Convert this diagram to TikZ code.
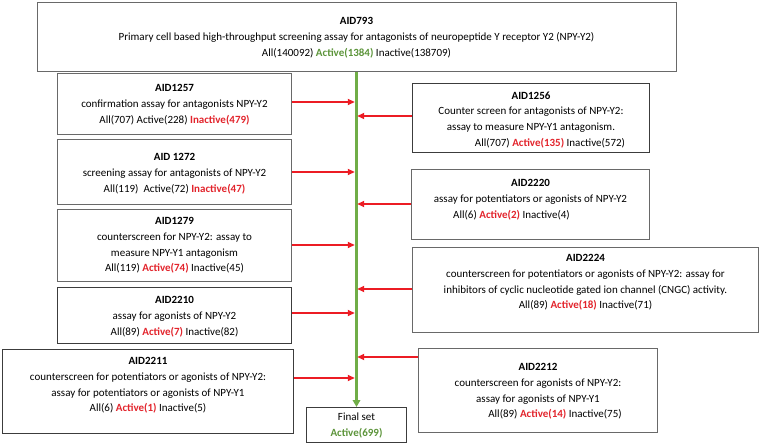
\documentclass[tikz,border=0pt]{standalone}
\usepackage{fontspec}
\setmainfont{Carlito}
\usetikzlibrary{arrows.meta}
\definecolor{redtxt}{RGB}{226,36,44}
\definecolor{grntxt}{RGB}{92,148,58}
\definecolor{grnline}{RGB}{112,173,71}
\definecolor{redarr}{RGB}{236,28,36}
\definecolor{boxline}{RGB}{105,105,105}
\definecolor{boxdark}{RGB}{60,60,60}
\newcommand{\rb}[1]{\textcolor{redtxt}{\textbf{#1}}}
\newcommand{\gb}[1]{\textcolor{grntxt}{\textbf{#1}}}
\begin{document}
\begin{tikzpicture}[x=1pt,y=-1pt,
  box/.style={draw=boxline, line width=1pt, inner sep=0pt, anchor=north west},
  txt/.style={anchor=north, inner sep=0pt, align=center, font=\fontsize{11}{15.6}\selectfont},
  feed/.style={draw=redarr, line width=2pt, -{Triangle[length=7pt,width=6pt]}, shorten >=1.2pt},
  mainline/.style={draw=grnline, line width=2.6pt, -{Triangle[length=7pt,width=7.5pt]}}]
\useasboundingbox (0,0) rectangle (760,443);
% boxes
\node[box, minimum width=639pt, minimum height=69pt] (top) at (36.5,2) {};
\node[box, minimum width=234pt, minimum height=61pt] (a1257) at (57,73) {};
\node[box, draw=boxdark, minimum width=237pt, minimum height=69pt] (a1256) at (412,83) {};
\node[box, minimum width=234pt, minimum height=65pt] (a1272) at (57,139) {};
\node[box, minimum width=238pt, minimum height=70pt] (a2220) at (411,169) {};
\node[box, minimum width=234pt, minimum height=72pt] (a1279) at (57,209) {};
\node[box, minimum width=346pt, minimum height=85pt] (a2224) at (412,247) {};
\node[box, draw=boxdark, minimum width=234pt, minimum height=56pt] (a2210) at (57,287) {};
\node[box, draw=boxdark, minimum width=291pt, minimum height=84pt] (a2211) at (2,349) {};
\node[box, minimum width=239pt, minimum height=84pt] (a2212) at (418,348) {};
\node[box, draw=boxdark, minimum width=100pt, minimum height=35pt] (final) at (306,407) {};
% texts
\node[txt] (t793) at ([yshift=-15.5pt]top.north) {\textbf{AID793}\\Primary cell based high-throughput screening assay for antagonists of neuropeptide Y receptor Y2 (NPY-Y2)\\All(140092) \gb{Active(1384)} Inactive(138709)};
\node[txt] (t1257) at ([yshift=-11.5pt]a1257.north) {\textbf{AID1257}\\confirmation assay for antagonists NPY-Y2\\All(707) Active(228) \rb{Inactive(479)}};
\node[txt] (t1256) at ([yshift=-8.5pt]a1256.north) {\textbf{AID1256}\\Counter screen for antagonists of NPY-Y2:\\assay to measure NPY-Y1 antagonism.\\\hspace*{38pt}All(707) \rb{Active(135)} Inactive(572)};
\node[txt] (t1272) at ([yshift=-14.5pt]a1272.north) {\textbf{AID 1272}\\screening assay for antagonists of NPY-Y2\\All(119)\ \ Active(72) \rb{Inactive(47)}};
\node[txt] (t2220) at ([yshift=-10.5pt]a2220.north) {\textbf{AID2220}\\assay for potentiators or agonists of NPY-Y2\\All(6) \rb{Active(2)} Inactive(4)\hspace*{38pt}};
\node[txt] (t1279) at ([yshift=-8.5pt]a1279.north) {\textbf{AID1279}\\counterscreen for NPY-Y2: assay to\\measure NPY-Y1 antagonism\\All(119) \rb{Active(74)} Inactive(45)};
\node[txt] (t2224) at ([yshift=-7.5pt]a2224.north) {\textbf{AID2224}\\counterscreen for potentiators or agonists of NPY-Y2: assay for\\inhibitors of cyclic nucleotide gated ion channel (CNGC) activity.\\All(89) \rb{Active(18)} Inactive(71)};
\node[txt] (t2210) at ([yshift=-9.5pt]a2210.north) {\textbf{AID2210}\\assay for agonists of NPY-Y2\\All(89) \rb{Active(7)} Inactive(82)};
\node[txt] (t2211) at ([yshift=-8.5pt]a2211.north) {\textbf{AID2211}\\counterscreen for potentiators or agonists of NPY-Y2:\\assay for potentiators or agonists of NPY-Y1\\All(6) \rb{Active(1)} Inactive(5)};
\node[txt] (t2212) at ([yshift=-15.5pt]a2212.north) {\textbf{AID2212}\\counterscreen for agonists of NPY-Y2:\\assay for agonists of NPY-Y1\\\hspace*{34pt}All(89) \rb{Active(14)} Inactive(75)};
\node[txt] (tfinal) at ([yshift=-6pt]final.north) {Final set\\\gb{Active(699)}};
% main line
\draw[mainline] (top.south) -- (final.north);
% junction points on the main line
\coordinate (j1) at (356,102);
\coordinate (j2) at (356,116);
\coordinate (j3) at (356,172);
\coordinate (j4) at (356,204);
\coordinate (j5) at (356,245);
\coordinate (j6) at (356,289);
\coordinate (j7) at (356,313);
\coordinate (j8) at (356,357);
\coordinate (j9) at (356,378);
\draw[feed] (j1 -| a1257.east) -- (j1);
\draw[feed] (j2 -| a1256.west) -- (j2);
\draw[feed] (j3 -| a1272.east) -- (j3);
\draw[feed] (j4 -| a2220.west) -- (j4);
\draw[feed] (j5 -| a1279.east) -- (j5);
\draw[feed] (j6 -| a2224.west) -- (j6);
\draw[feed] (j7 -| a2210.east) -- (j7);
\draw[feed] (j8 -| a2212.west) -- (j8);
\draw[feed] (j9 -| a2211.east) -- (j9);
\end{tikzpicture}
\end{document}
